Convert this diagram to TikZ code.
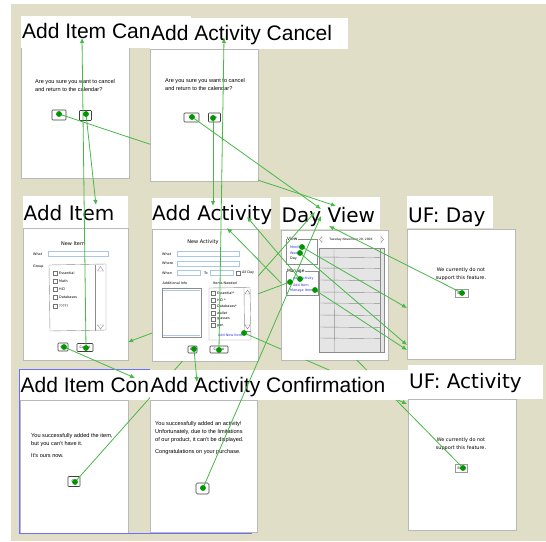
\documentclass[tikz,border=0pt]{standalone}
\usepackage{fontspec}
\setmainfont{Liberation Sans}
\newfontfamily\comicf{DejaVu Sans}
\usetikzlibrary{arrows.meta}
\definecolor{bgk}{RGB}{224,222,199}
\definecolor{lnk}{RGB}{70,185,70}
\definecolor{dotg}{RGB}{0,150,0}
\definecolor{scrb}{RGB}{185,185,185}
\definecolor{selb}{RGB}{110,110,255}
\definecolor{fld}{RGB}{170,200,230}
\definecolor{lblue}{RGB}{50,50,230}
\begin{document}
\begin{tikzpicture}[x=1pt,y=-1pt,
  screen/.style={draw=scrb, fill=white, line width=0.7pt},
  bigA/.style={font=\fontsize{21}{21}\selectfont, anchor=base west, inner sep=0},
  bigC/.style={font=\comicf\fontsize{20}{20}\selectfont, anchor=base west, inner sep=0},
  link/.style={draw=lnk, line width=0.8pt},
  arr/.style={link, -{Latex[length=5pt,width=4.5pt]}},
  gdot/.style={fill=dotg},
  dtxt/.style={font=\fontsize{5.6}{8}\selectfont, anchor=north west, inner sep=0, align=left},
  utxt/.style={font=\comicf\fontsize{4.9}{8}\selectfont, inner sep=0, align=center},
  ftxt/.style={font=\comicf\fontsize{3.4}{4}\selectfont, inner sep=0, anchor=west},
  ttl/.style={font=\comicf\fontsize{5}{6}\selectfont, inner sep=0},
  btn/.style={draw=black!75, fill=white, line width=0.6pt, rounded corners=0.8pt},
  btxt/.style={font=\fontsize{3.4}{4}\selectfont, inner sep=0},
  fbox/.style={draw=fld, line width=0.5pt},
  cbox/.style={draw=black!55, line width=0.4pt},
  gline/.style={draw=black!45, line width=0.4pt}
]
\useasboundingbox (0,0) rectangle (546,541);
\fill[bgk] (11,4) rectangle (546,541);

% ---------------- Add Item Cancel ----------------
\draw[screen] (21,47) rectangle (129,178);
\fill[white] (21,16) rectangle (191,48);
\node[bigA] (aicT) at (22,38) {Add Item Can};
\node[dtxt] (aicQ) at (35,79.5) {Are you sure you want to cancel\\and return to the calendar?};
\node[btn, minimum width=14pt, minimum height=10pt] (aicYesB) at (59,115) {};
\node[btxt] at (59,115) {Yes};
\node[btn, minimum width=12pt, minimum height=10pt] (aicNoB) at (85.5,115.5) {};
\node[btxt] at (85.5,115.5) {No};

% ---------------- Add Activity Cancel ----------------
\draw[screen] (150,49) rectangle (258,181);
\fill[white] (150,18) rectangle (348,49);
\node[bigA] (aacT) at (151,40) {Add Activity Cancel};
\node[dtxt] (aacQ) at (165,78.5) {Are you sure you want to cancel\\and return to the calendar?};
\node[btn, minimum width=15pt, minimum height=9pt] (aacYesB) at (191.5,117.5) {};
\node[btxt] at (191.5,117.5) {Yes};
\node[btn, minimum width=12pt, minimum height=9pt] (aacNoB) at (214.5,117.5) {};
\node[btxt] at (214.5,117.5) {No};

% ---------------- Add Item ----------------
\draw[screen] (23,228) rectangle (128,360);
\fill[white] (23,196) rectangle (128,228);
\node[bigC] (aiT) at (23.5,220) {Add Item};
\node[ttl] at (73,244) {New Item};
\node[ftxt] at (33,254) {What};
\draw[fbox] (48,251.5) rectangle (108,256.5);
\node[ftxt] at (33,267) {Group};
\draw[gline] (49,265) -- (106,264) -- (106,330) -- (50,331) -- cycle;
\draw[gline] (95,264.5) -- (95,330.5);
\draw[gline] (97.5,271) -- (100.5,266.5) -- (103.5,271) -- cycle;
\draw[gline] (97.5,325) -- (100.5,329) -- (103.5,325) -- cycle;
\foreach \yy/\tt in {273/Essential,281/Math,289/HCI,297/Databases,306/?????}{
  \draw[cbox] (53,\yy-2) rectangle (57,\yy+2);
  \node[ftxt] at (59,\yy) {\tt};
}
\node[btn, minimum width=10pt, minimum height=8pt] (aiOKB) at (63,347) {};
\node[btxt] at (63,347) {OK};
\node[btn, minimum width=16pt, minimum height=8pt] (aiCanB) at (85,347.5) {};
\node[btxt] at (85,347.5) {Cancel};

% ---------------- Add Activity ----------------
\draw[screen] (152,229) rectangle (258,361);
\fill[white] (152,198) rectangle (271,229);
\node[bigC] (aaT) at (152,220) {Add Activity};
\node[ttl] at (203,242) {New Activity};
\node[ftxt] at (162,254) {What};
\draw[fbox] (177,251.5) rectangle (239,256.5);
\node[ftxt] at (162,263.5) {Where};
\draw[fbox] (177,261) rectangle (239,266);
\node[ftxt] at (162,273) {When};
\draw[fbox] (177,270.5) rectangle (200,275.5);
\node[ftxt] at (204,273) {To};
\draw[fbox] (210,270.5) rectangle (233,275.5);
\draw[cbox] (236.5,271) rectangle (240.5,275);
\node[ftxt] at (242,273) {All Day};
\node[ftxt, anchor=center] at (175,283) {Additional Info};
\node[ftxt, anchor=center] at (225,283) {Items Needed};
\draw[gline] (162,288) rectangle (201,337);
\draw[fld, line width=1pt] (163,290) -- (200,290);
\draw[fld, line width=1pt] (163,335) -- (200,335);
\draw[gline] (209,288) -- (250,287.5) -- (251,340) -- (209,340) -- cycle;
\draw[gline] (244,288) -- (244.5,331);
\draw[gline] (244.5,331) -- (251,331);
\draw[gline] (245,294) -- (247.5,290) -- (250,294) -- cycle;
\draw[gline] (245,325) -- (247.5,329) -- (250,325) -- cycle;
\foreach \yy/\tt in {293/Essential*,300/HCI *,306.5/Databases*,313/wallet,319/glasses,325.5/pen/pencil}{
  \draw[cbox] (211,\yy-2) rectangle (215,\yy+2);
  \node[ftxt] at (217,\yy) {\tt};
}
\node[ftxt, text=lblue] (aaNewT) at (218,335) {Add New Item};
\node[btn, minimum width=9pt, minimum height=7pt] (aaOKB) at (192.5,349.5) {};
\node[btxt] at (192.5,349.5) {OK};
\node[btn, minimum width=18pt, minimum height=7pt] (aaCanB) at (219,349.5) {};
\node[btxt] at (219,349.5) {Cancel};

% ---------------- Day View ----------------
\draw[screen] (281,230) rectangle (388,360);
\fill[white] (280,197) rectangle (380,229);
\node[bigC] (dvT) at (281.5,222) {Day View};
\draw[gline] (286,239) rectangle (317,264);
\node[ftxt, fill=white, inner sep=0.3pt, font=\comicf\fontsize{4.4}{5}\selectfont] at (286.5,239) {View};
\node[ftxt, text=lblue] at (290,247) {Month};
\node[ftxt, text=lblue] at (290,253) {Week};
\node[ftxt] at (290,259) {Day};
\draw[gline] (286,271) rectangle (318,295);
\node[ftxt, fill=white, inner sep=0.3pt, font=\comicf\fontsize{4.4}{5}\selectfont] at (286.5,271) {Manage};
\node[ftxt, text=lblue] at (293,279) {Add Activity};
\node[ftxt, text=lblue] at (293,285) {Add Item};
\node[ftxt, text=lblue] at (290,291) {Manage Items};
\draw[gline] (322,236.5) -- (319.5,239.5) -- (322,242.5) -- cycle;
\node[ftxt, anchor=center, font=\comicf\fontsize{3}{4}\selectfont] at (351,239.5) {Tuesday November 28, 2006};
\draw[gline] (381,236.5) -- (383.5,239.5) -- (381,242.5) -- cycle;
\fill[black!10] (319,248) rectangle (384,353);
\draw[gline] (319,248) rectangle (380,352);
\draw[gline] (380,248) rectangle (384,352);
\draw[gline] (334,248) -- (334.5,352);
\foreach \yy in {257,268,280,292,303,315,327,338}{
  \draw[gline] (319,\yy) -- (380,\yy+0.6);
}

% ---------------- UF: Day ----------------
\draw[screen] (407,229) rectangle (515,359);
\fill[white] (407,196) rectangle (493,228);
\node[bigC] (ufdT) at (408,222) {UF: Day};
\node[utxt] (ufdQ) at (461,274) {We currently do not\\support this feature.};
\node[btn, draw=black!40, rounded corners=0pt, minimum width=13pt, minimum height=8pt] (ufdB) at (461.5,293) {};
\node[btxt] at (461.5,293) {Back};

% ---------------- Add Item Confirmation ----------------
\draw[screen] (20,400) rectangle (128,533);
\fill[white] (20,370) rectangle (150,400);
\node[bigA] (aiconT) at (20.5,392) {Add Item Con};
\node[dtxt] (aiconQ) at (31,433) {You successfully added the item,\\but you can't have it.\\[4pt]It's ours now.};
\node[btn, minimum width=12pt, minimum height=10pt] (aiconB) at (74,481.5) {};
\node[btxt] at (74,481.5) {OK};
\draw[selb, line width=1pt] (252,533.5) -- (19,533.5) -- (19,369.5) -- (150,369.5);

% ---------------- Add Activity Confirmation ----------------
\draw[screen] (150,400) rectangle (257,532);
\fill[white] (150,370) rectangle (408,400);
\node[bigA] (aconT) at (150.5,392) {Add Activity Confirmation};
\node[dtxt] (aconQ) at (155,421) {You successfully added an activity!\\Unfortunately, due to the limitations\\of our product, it can't be displayed.\\[4pt]Congratulations on your purchase.};
\node[btn, rounded corners=1.5pt, minimum width=13pt, minimum height=11pt] (aconB) at (202.5,488.5) {};
\node[btxt] at (202.5,488.5) {OK};

% ---------------- UF: Activity ----------------
\draw[screen] (408,399) rectangle (516,530);
\fill[white] (408,365) rectangle (543,399);
\node[bigC] (ufaT) at (409,388) {UF: Activity};
\node[utxt] (ufaQ) at (461,444) {We currently do not\\support this feature.};
\node[btn, draw=black!40, rounded corners=0pt, minimum width=12pt, minimum height=8pt] (ufaB) at (461.5,468) {};
\node[btxt] at (461.5,468) {Back};

% ---------------- link endpoints ----------------
\coordinate (aicYes) at (59,114);
\coordinate (aicNo) at (86,114);
\coordinate (aacYes) at (192,117);
\coordinate (aacNo) at (213,118);
\coordinate (aiOK) at (64,347);
\coordinate (aiCancel) at (86,348);
\coordinate (aaOK) at (194,349);
\coordinate (aaCancel) at (219,350);
\coordinate (aaNew) at (244,333);
\coordinate (dvMonth) at (302,247);
\coordinate (dvWeek) at (300,253);
\coordinate (dvAddAct) at (300,279);
\coordinate (dvAddItem) at (290,282);
\coordinate (dvManage) at (315,290);
\coordinate (ufdBack) at (462,293);
\coordinate (ufaBack) at (463,468);
\coordinate (aiconOK) at (75,482);
\coordinate (aconOK) at (203,488);

\coordinate (tAI) at (96,205);
\coordinate (tAIC) at (82,38);
\coordinate (tDVa) at (336,206);
\coordinate (tAAa) at (213,206);
\coordinate (tAAC) at (224,38);
\coordinate (tDVb) at (321,209);
\coordinate (tDVc) at (315,212);
\coordinate (tDVd) at (321,216);
\coordinate (tUFDa) at (407,308);
\coordinate (tUFDb) at (407,345);
\coordinate (tUFDc) at (407,350);
\coordinate (tAAb) at (247,217);
\coordinate (tAIs) at (128,342);
\coordinate (tDVe) at (329,226);
\coordinate (tAAc) at (227,228);
\coordinate (tUFA) at (407,404);
\coordinate (tAICon) at (135,378);
\coordinate (tACon) at (197,382);

% ---------------- links ----------------
\draw[arr] (aicNo) -- (tAI);
\draw[arr] (aiCancel) -- (tAIC);
\draw[arr] (aacNo) -- (tAAa);
\draw[arr] (aaCancel) -- (tAAC);
\draw[arr] (aacYes) -- (tDVb);
\draw[arr] (aconOK) -- (tDVd);
\draw[arr] (dvMonth) -- (tUFDa);
\draw[arr] (dvWeek) -- (tUFDb);
\draw[arr] (dvManage) -- (tUFDc);
\draw[arr] (dvAddAct) -- (tAAb);
\draw[arr] (ufdBack) -- (tDVe);
\draw[arr] (aiOK) -- (tAICon);
\draw[arr] (aaOK) -- (tACon);
\begin{scope}[even odd rule]
  \clip (0,0) rectangle (546,541) (150,49) rectangle (258,181);
  \draw[arr] (aicYes) -- (tDVa);
\end{scope}
\begin{scope}[even odd rule]
  \clip (0,0) rectangle (546,541) (152,229) rectangle (258,361) (150,370) rectangle (408,400) (150,400) rectangle (257,532);
  \draw[arr] (aiconOK) -- (tDVc);
\end{scope}
\begin{scope}[even odd rule]
  \clip (0,0) rectangle (546,541) (152,229) rectangle (258,361);
  \draw[arr] (dvAddItem) -- (tAIs);
\end{scope}
\begin{scope}[even odd rule]
  \clip (0,0) rectangle (546,541) (281,230) rectangle (388,360) (150,370) rectangle (408,400);
  \draw[arr] (aaNew) -- (tUFA);
  \draw[arr] (ufaBack) -- (tAAc);
\end{scope}

% ---------------- dots ----------------
\foreach \p in {aicYes,aicNo,aacYes,aacNo,aiOK,aiCancel,aaOK,aaCancel,aaNew,dvMonth,dvWeek,dvAddAct,dvAddItem,dvManage,ufdBack,ufaBack,aiconOK,aconOK}{
  \fill[gdot] (\p) circle (2.9);
}
\end{tikzpicture}
\end{document}
